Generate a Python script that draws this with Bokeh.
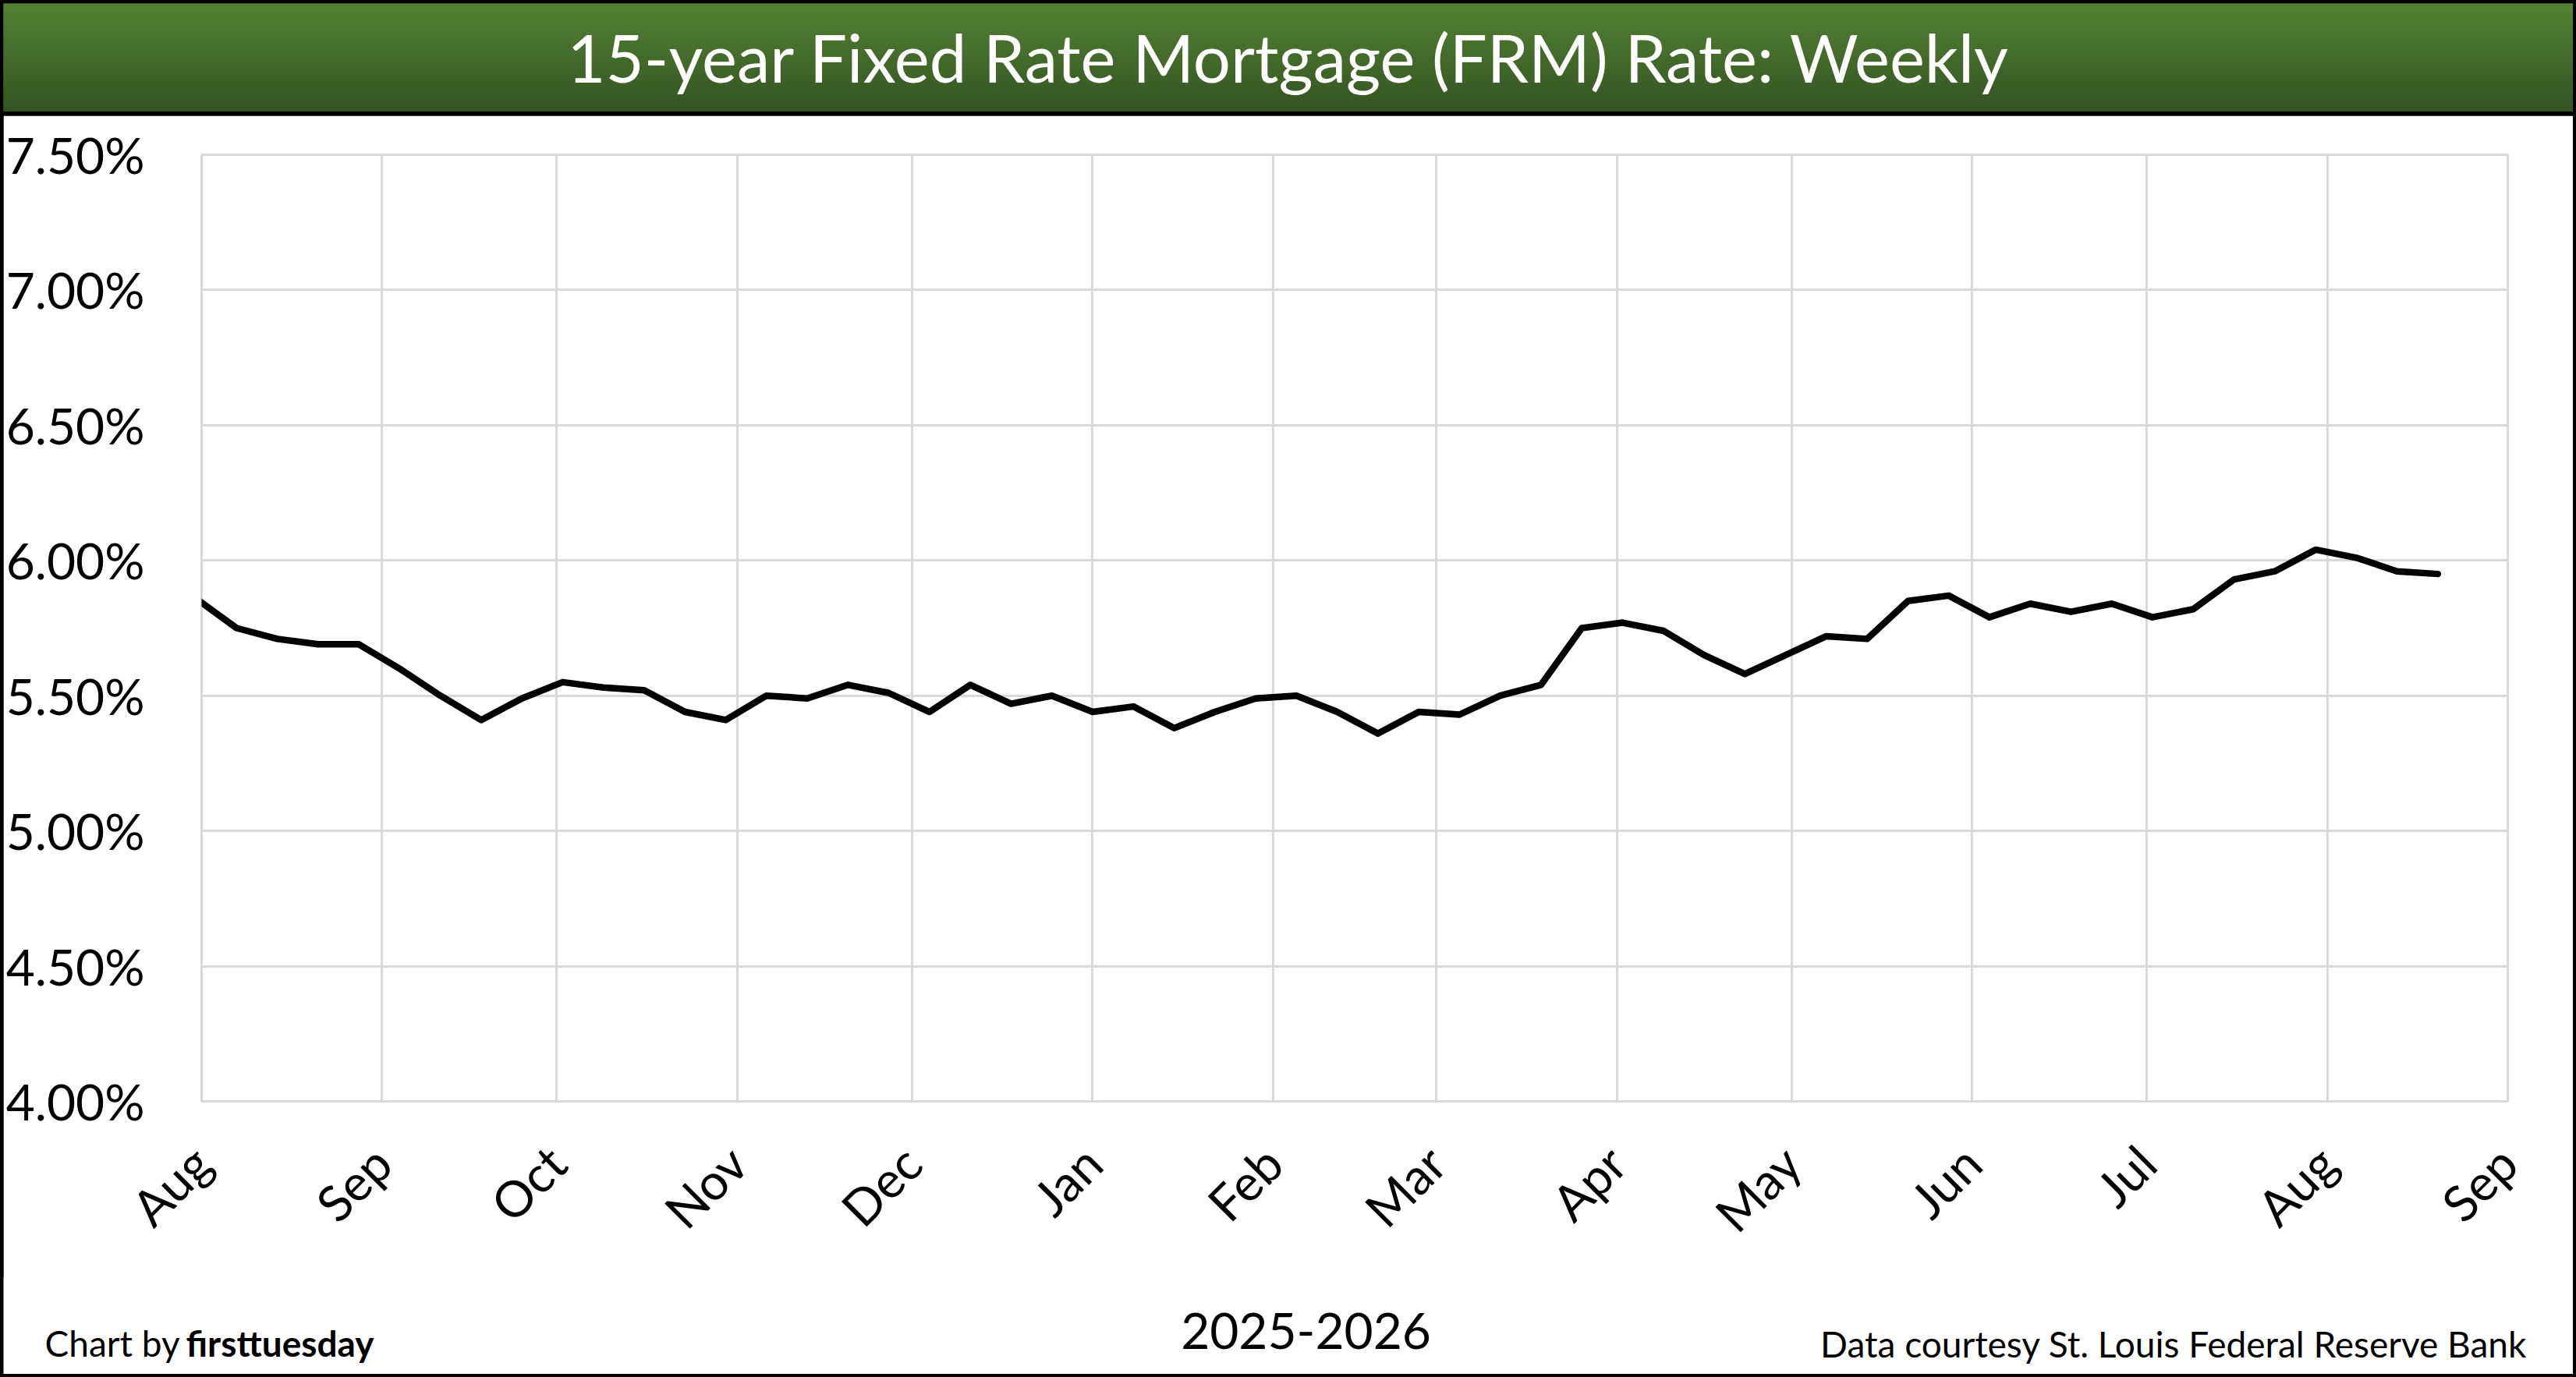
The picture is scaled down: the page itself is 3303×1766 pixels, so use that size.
import math
import pandas as pd
from bokeh.plotting import figure
from bokeh.layouts import column
from bokeh.models import (Range1d, FixedTicker, PrintfTickFormatter,
                          DatetimeTickFormatter, ColumnDataSource)
from bokeh.core.properties import value
from bokeh.embed import file_html
from bokeh.resources import INLINE

# ---------------- data ----------------
title_text = "15-year Fixed Rate Mortgage (FRM) Rate: Weekly"
x_axis_title = "2025-2026"
credit_left = "Chart by"
credit_brand = "firsttuesday"
credit_right = "Data courtesy St. Louis Federal Reserve Bank"

week_dates = [
    "2025-07-31", "2025-08-07", "2025-08-14", "2025-08-21", "2025-08-28",
    "2025-09-04", "2025-09-11", "2025-09-18", "2025-09-25",
    "2025-10-02", "2025-10-09", "2025-10-16", "2025-10-23", "2025-10-30",
    "2025-11-06", "2025-11-13", "2025-11-20", "2025-11-27",
    "2025-12-04", "2025-12-11", "2025-12-18", "2025-12-25",
    "2026-01-01", "2026-01-08", "2026-01-15", "2026-01-22", "2026-01-29",
    "2026-02-05", "2026-02-12", "2026-02-19", "2026-02-26",
    "2026-03-05", "2026-03-12", "2026-03-19", "2026-03-26",
    "2026-04-02", "2026-04-09", "2026-04-16", "2026-04-23", "2026-04-30",
    "2026-05-07", "2026-05-14", "2026-05-21", "2026-05-28",
    "2026-06-04", "2026-06-11", "2026-06-18", "2026-06-25",
    "2026-07-02", "2026-07-09", "2026-07-16", "2026-07-23", "2026-07-30",
    "2026-08-06", "2026-08-13", "2026-08-20",
]
rate_15yr = [
    5.86, 5.75, 5.71, 5.69, 5.69,
    5.60, 5.50, 5.41, 5.49,
    5.55, 5.53, 5.52, 5.44, 5.41,
    5.50, 5.49, 5.54, 5.51,
    5.44, 5.54, 5.47, 5.50,
    5.44, 5.46, 5.38, 5.44, 5.49,
    5.50, 5.44, 5.36, 5.44,
    5.43, 5.50, 5.54, 5.75,
    5.77, 5.74, 5.65, 5.58, 5.65,
    5.72, 5.71, 5.85, 5.87,
    5.79, 5.84, 5.81, 5.84,
    5.79, 5.82, 5.93, 5.96, 6.04,
    6.01, 5.96, 5.95,
]
y_ticks = [4.0, 4.5, 5.0, 5.5, 6.0, 6.5, 7.0, 7.5]
month_ticks = [
    "2025-08-01", "2025-09-01", "2025-10-01", "2025-11-01", "2025-12-01",
    "2026-01-01", "2026-02-01", "2026-03-01", "2026-04-01", "2026-05-01",
    "2026-06-01", "2026-07-01", "2026-08-01", "2026-09-01",
]

# ---------------- styles / layout (page pixel coordinates) ----------------
FONT = "Lato"
GRID = "#d9d9d9"
BORDER = 4
W = 3303 - 2 * BORDER          # inner width
TITLE_TOP, TITLE_BOT = 4, 143    # green bar
MAIN_TOP, MAIN_BOT = 148, 1640   # chart canvas
OVERLAP = 2
FOOT_TOP, FOOT_BOT = MAIN_BOT - OVERLAP, 1762  # footer canvas
FRAME_TOP, FRAME_BOT = 198, 1412
FRAME_LEFT, FRAME_RIGHT = 257, 3215
MID = 0.36   # text anchor: middle of line sits this many em above the baseline

month_ms = [pd.Timestamp(d).value // 10**6 for d in month_ticks]
src = ColumnDataSource(dict(date=pd.to_datetime(week_dates), rate=rate_15yr))


def bare_figure(top, bot, margin):
    f = figure(width=W, height=bot - top,
               x_range=Range1d(BORDER, BORDER + W), y_range=Range1d(bot, top),
               output_backend="svg", toolbar_location=None,
               min_border_left=0, min_border_right=0, min_border_top=0, min_border_bottom=0,
               x_axis_type=None, y_axis_type=None, margin=margin)
    f.title = None
    if "frame_align" in f.properties():
        f.frame_align = False
    f.grid.visible = False
    f.outline_line_color = None
    return f


def put_text(fig, x, baseline, txt, size, align, color="black", style="normal"):
    fig.text(x=[x], y=[baseline - MID * size], text=[txt], text_align=align,
             text_baseline="middle", text_color=color, text_font_style=style,
             text_font=value(FONT), text_font_size=value("%dpx" % size))


# ---------------- title bar ----------------
t = bare_figure(TITLE_TOP, TITLE_BOT, (4, 4, 0, 4))
t.background_fill_color = "#466c2c"
t.border_fill_color = "#466c2c"
top_rgb = (0x54, 0x82, 0x35)
bot_rgb = (0x33, 0x53, 0x21)
n = 46
h = (TITLE_BOT - TITLE_TOP) / n
band_top, band_bot, band_color = [], [], []
for i in range(n):
    f_ = (i + 0.5) / n
    r, g, b = (round(top_rgb[k] + (bot_rgb[k] - top_rgb[k]) * f_) for k in range(3))
    band_top.append(TITLE_TOP + i * h - 0.5)
    band_bot.append(TITLE_TOP + (i + 1) * h + 0.5)
    band_color.append("#%02x%02x%02x" % (r, g, b))
t.quad(left=0, right=3303, top=band_top, bottom=band_bot, color=band_color, line_color=None)
put_text(t, 1652, 103, title_text, 85, "center", color="white")

# ---------------- main chart ----------------
p = figure(width=W, height=MAIN_BOT - MAIN_TOP, x_axis_type="datetime",
           x_range=Range1d(pd.Timestamp(month_ticks[0]), pd.Timestamp(month_ticks[-1])),
           y_range=Range1d(y_ticks[0], y_ticks[-1]),
           output_backend="svg", toolbar_location=None,
           min_border_left=FRAME_LEFT - BORDER, min_border_right=BORDER + W - FRAME_RIGHT,
           min_border_top=FRAME_TOP - MAIN_TOP, min_border_bottom=MAIN_BOT - FRAME_BOT,
           margin=(5, 4, 0, 4))
if "frame_align" in p.properties():
    p.frame_align = False
p.background_fill_color = "white"
p.border_fill_color = "white"
p.outline_line_color = GRID
p.outline_line_width = 3

p.xaxis.ticker = FixedTicker(ticks=month_ms)
p.yaxis.ticker = FixedTicker(ticks=y_ticks)
p.xgrid.ticker = FixedTicker(ticks=month_ms)
p.grid.grid_line_color = GRID
p.grid.grid_line_width = 3

p.xaxis.formatter = DatetimeTickFormatter(days="%b", months="%b", years="%b")
p.yaxis.formatter = PrintfTickFormatter(format="%.2f%%")
for ax in (p.xaxis, p.yaxis):
    ax.axis_line_color = None
    ax.major_tick_line_color = None
    ax.minor_tick_line_color = None
    ax.major_label_text_font = FONT
    ax.major_label_text_font_size = "64px"
    ax.major_label_text_color = "black"
p.yaxis.major_label_standoff = 67
p.xaxis.major_label_standoff = 62
p.xaxis.major_label_orientation = math.pi / 4

p.line(x="date", y="rate", source=src, line_color="black", line_width=8.5,
       line_join="round", line_cap="round")

# ---------------- footer ----------------
ft = bare_figure(FOOT_TOP, FOOT_BOT, (-OVERLAP, 4, 4, 4))
ft.background_fill_color = "white"
ft.border_fill_color = "white"
put_text(ft, 1674, 1730, x_axis_title, 64, "center")
put_text(ft, 57, 1739, credit_left, 46, "left")
put_text(ft, 238, 1739, credit_brand, 46, "left", style="bold")
put_text(ft, 3240, 1740, credit_right, 46, "right")

layout = column(t, p, ft, spacing=0, styles={"background-color": "black"})

open("out.html", "w").write(file_html(layout, INLINE))
